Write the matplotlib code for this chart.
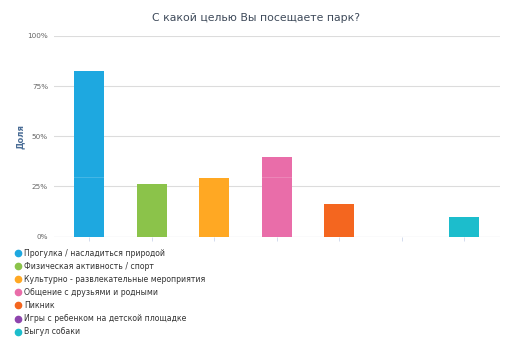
import matplotlib.pyplot as plt
from matplotlib.ticker import FuncFormatter
from matplotlib.lines import Line2D

# Data
categories = [
    "Прогулка / насладиться природой",
    "Физическая активность / спорт",
    "Культурно - развлекательные мероприятия",
    "Общение с друзьями и родными",
    "Пикник",
    "Игры с ребенком на детской площадке",
    "Выгул собаки",
]
shares = [82.5, 26.0, 29.3, 39.5, 16.0, 0.0, 9.5]
colors = ["#1ea8e0", "#8bc34a", "#ffa823", "#e96da9", "#f4661f", "#8e44ad", "#1cbdcc"]
yticks = [0, 25, 50, 75, 100]

fig = plt.figure(figsize=(5.12, 3.56), dpi=100)
ax = fig.add_axes([54 / 512, 1 - 236.5 / 356, 446 / 512, 200.5 / 356])

x = range(len(categories))
ax.bar(x, shares, width=0.48, color=colors, zorder=2)

# faint highlight line crossing the bars
ax.axhline(29.5, color="white", lw=0.6, alpha=0.2, zorder=3)

ax.set_xlim(-0.56, len(categories) - 0.43)
ax.set_ylim(0, 100)
ax.set_yticks(yticks)
ax.yaxis.set_major_formatter(FuncFormatter(lambda v, p: f"{v:.0f}%"))
ax.grid(axis="y", color="#dcdcdc", lw=0.8, zorder=0)
for s in ax.spines.values():
    s.set_visible(False)
ax.set_xticks(list(x))
ax.set_xticklabels([])
ax.tick_params(axis="x", length=3, color="#ccd6eb", width=0.6)
ax.tick_params(axis="y", length=0, labelsize=5.2, labelcolor="#666666", pad=4.3)
ax.axhline(0, color="#ccd6eb", lw=0.8, zorder=1)

fig.text(20 / 512, 1 - 136 / 356, "Доля", rotation=90, ha="center", va="center",
         fontsize=6, fontweight="bold", color="#4a6d96")

fig.text(0.5, 1 - 18 / 356, "С какой целью Вы посещаете парк?", ha="center", va="center",
         fontsize=7.8, color="#3e4a5a")

# legend
handles = [Line2D([], [], marker="o", ls="", markersize=4.5, color=c) for c in colors]
fig.legend(handles, categories, loc="upper left", bbox_to_anchor=(14 / 512, 1 - 249 / 356),
           frameon=False, fontsize=5.6, labelcolor="#333333", handletextpad=0.35,
           labelspacing=0.52, handlelength=1.0, borderaxespad=0, borderpad=0)

fig.savefig("out.png", dpi=100)
